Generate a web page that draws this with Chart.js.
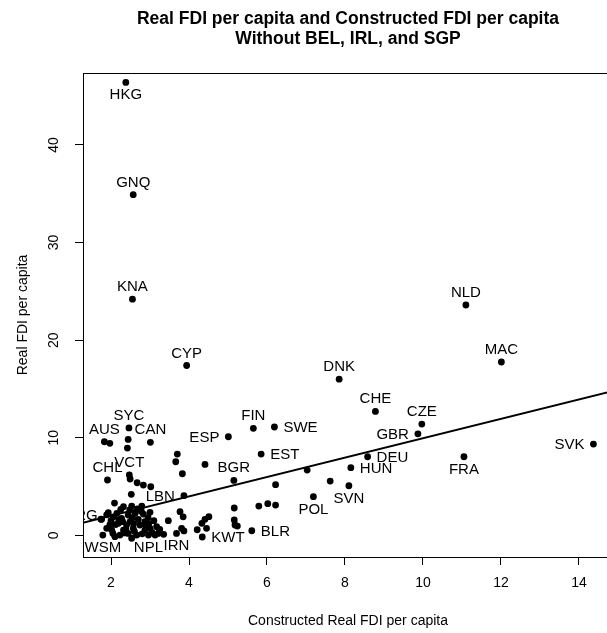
<!DOCTYPE html>
<html>
<head>
<meta charset="utf-8">
<script src="https://cdn.jsdelivr.net/npm/chart.js@4.4.7/dist/chart.umd.min.js"></script>
<style>
  html, body { margin: 0; padding: 0; background: #fff; overflow: hidden; }
  #wrap { width: 620px; height: 633px; }
</style>
</head>
<body>
<div id="wrap"><canvas id="chart" width="620" height="633"></canvas></div>
<script>
const chartTitle = ["Real FDI per capita and Constructed FDI per capita", "Without BEL, IRL, and SGP"]
const xAxisTitle = "Constructed Real FDI per capita"
const yAxisTitle = "Real FDI per capita"
const xTicks = [2, 4, 6, 8, 10, 12, 14]
const yTicks = [0, 10, 20, 30, 40]

// country code ("" = no label), constructed FDI per capita, real FDI per capita
const codes = [
  "HKG", "GNQ", "KNA", "CYP", "NLD", "MAC", "SVK", "FRA", "DNK", "CHE", "CZE",
  "GBR", "DEU", "HUN", "SVN", "POL", "FIN", "SWE", "ESP", "EST", "BGR", "SYC",
  "AUS", "CAN", "VCT", "CHL", "LBN", "ARG", "WSM", "NPL", "IRN", "KWT", "BLR",
  "", "", "", "", "", "", "", "", "", "", "", "", "", "", "", "", "", "", "", "",
  "", "", "", "", "", "", "", "", "", "", "", "", "", "", "", "", "", "", "", "",
  "", "", "", "", "", "", "", "", "", "", "", "", "", "", "", "", "", "", "", "",
  "", "", "", "", "", "", "", "", "", "", "", "", "", "", "", "", "", "", "",
  "", "", "", "", "", "", "", "", "", ""
]
const constructedFdi = [
  2.38, 2.57, 2.55, 3.94, 11.10, 12.01, 14.37, 11.05, 7.85, 8.78, 9.97,
  9.87, 8.58, 8.15, 8.10, 7.19, 5.65, 6.19, 5.01, 5.85, 5.15, 2.46,
  1.83, 3.01, 2.47, 1.91, 3.87, 1.89, 1.79, 2.96, 3.68, 4.34, 5.61,
  1.97, 2.44, 2.42, 3.70, 3.66, 4.41, 3.83, 7.03, 7.62, 6.22, 2.49, 2.67, 2.83, 3.02, 2.52, 5.16, 5.79, 6.02, 6.22, 4.21,
  4.33, 4.41, 4.51, 4.45, 5.16, 5.18, 5.24, 3.87, 3.81, 3.85, 3.77, 3.47, 3.17, 3.21, 2.09, 2.32, 2.53, 2.79, 2.83, 1.93,
  1.76, 2.06, 2.44, 2.70, 2.87, 3.00, 2.02, 2.23, 2.44, 2.66, 3.13, 2.40, 2.74, 3.00, 1.97, 2.19, 1.89, 2.32, 2.57, 2.87,
  2.15, 2.27, 2.49, 2.62, 2.10, 2.53, 2.05, 2.35, 2.60, 2.80, 3.05, 2.20, 2.55, 2.90, 2.12, 1.74, 2.97, 3.35, 2.38,
  2.30, 2.48, 2.68, 2.95, 3.10, 2.25, 2.78, 2.00, 2.58, 3.25
]
const realFdi = [
  46.4, 34.9, 24.2, 17.4, 23.6, 17.76, 9.35, 8.05, 16.0, 12.7, 11.4,
  10.4, 8.05, 6.93, 5.08, 3.96, 10.96, 11.1, 10.1, 8.33, 5.63, 11.0,
  9.59, 9.53, 6.18, 5.67, 4.06, 2.10, 0.03, 0.03, 0.2, -0.17, 0.47,
  9.43, 9.83, 8.94, 8.33, 7.54, 7.27, 6.31, 6.69, 5.56, 5.19, 5.77, 5.39, 5.15, 4.98, 4.20, 2.80, 3.00, 3.24, 3.10, 0.57,
  1.23, 1.64, 1.91, 0.72, 1.57, 1.06, 0.95, 0.45, 0.72, 1.90, 2.42, 1.50, 0.88, 0.20, 3.30, 2.93, 3.00, 3.00, 2.18, 2.32,
  1.64, 1.90, 2.08, 1.64, 1.39, 2.36, 0.54, 0.03, 0.20, 0.03, 0.03, 1.06, 1.06, 0.72, 1.06, 1.23, 0.72, 0.54, 0.72, 0.54,
  2.25, 1.74, 1.39, 2.25, -0.14, -0.30, 0.20, 0.25, 0.40, 0.15, 0.30, 1.60, 1.80, 0.90, 1.10, 1.65, 1.20, 0.10, 0.60,
  1.40, 2.60, 2.70, 1.80, 1.50, 2.65, 2.45, 1.50, 1.20, 0.60
]
// which side of the point each label sits on
const labelSide = {
  HKG: "below", FRA: "below", SVN: "below", POL: "below", WSM: "below", NPL: "below", IRN: "below",
  SVK: "left", GBR: "left", ESP: "left", LBN: "left", ARG: "left",
  DEU: "right", HUN: "right", SWE: "right", EST: "right", KWT: "right", BLR: "right"
}

// fitted regression line (two ends)
const fitX = [1.0, 15.0]
const fitY = [1.01, 14.92]

const FONT = "'Liberation Sans', Arial, Helvetica, sans-serif"

const frame = {
  id: "frame",
  afterDraw(chart) {
    const { ctx, chartArea: a } = chart
    ctx.save()
    ctx.strokeStyle = "#000"
    ctx.lineWidth = 1
    ctx.strokeRect(a.left + 0.5, a.top + 0.5, a.right - a.left, a.bottom - a.top)
    ctx.fillStyle = "#000"
    ctx.font = `bold 17.5px ${FONT}`
    ctx.textAlign = "center"
    ctx.textBaseline = "alphabetic"
    const cx = (a.left + a.right) / 2
    ctx.fillText(chartTitle[0], cx, 24)
    ctx.fillText(chartTitle[1], cx, 44)
    ctx.restore()
  }
}

const pointLabels = {
  id: "pointLabels",
  afterDatasetsDraw(chart) {
    const { ctx, chartArea: a, scales } = chart
    ctx.save()
    ctx.beginPath()
    ctx.rect(a.left, a.top, a.right - a.left, a.bottom - a.top)
    ctx.clip()
    ctx.fillStyle = "#000"
    ctx.font = `15px ${FONT}`
    ctx.textBaseline = "alphabetic"
    codes.forEach((code, i) => {
      if (!code) return
      const px = scales.x.getPixelForValue(constructedFdi[i])
      const py = scales.y.getPixelForValue(realFdi[i])
      const side = labelSide[code] || "above"
      if (side === "below") {
        ctx.textAlign = "center"
        ctx.fillText(code, px, py + 17)
      } else if (side === "above") {
        ctx.textAlign = "center"
        ctx.fillText(code, px, py - 8)
      } else if (side === "left") {
        ctx.textAlign = "right"
        ctx.fillText(code, px - 9, py + 5)
      } else {
        ctx.textAlign = "left"
        ctx.fillText(code, px + 9, py + 5)
      }
    })
    ctx.restore()
  }
}

const tickGrid = { display: true, drawOnChartArea: false, drawTicks: true, tickLength: 8, color: "#000", lineWidth: 1 }

new Chart(document.getElementById("chart"), {
  type: "scatter",
  data: {
    datasets: [
      {
        data: constructedFdi.map((x, i) => ({ x, y: realFdi[i] })),
        backgroundColor: "#000",
        borderWidth: 0,
        pointRadius: 3.4,
        order: 2
      },
      {
        data: fitX.map((x, i) => ({ x, y: fitY[i] })),
        showLine: true,
        borderColor: "#000",
        borderWidth: 2,
        pointRadius: 0,
        order: 1
      }
    ]
  },
  options: {
    responsive: false,
    animation: false,
    layout: { padding: { top: 73, right: 7, left: 0, bottom: 0 } },
    plugins: {
      legend: { display: false },
      tooltip: { enabled: false }
    },
    scales: {
      x: {
        type: "linear",
        min: 1.282,
        max: 14.872,
        afterBuildTicks: (s) => { s.ticks = xTicks.map(v => ({ value: v })) },
        afterFit: (s) => { s.height = 76 },
        grid: tickGrid,
        border: { display: false },
        ticks: { color: "#000", font: { family: FONT, size: 14 }, padding: 10, maxRotation: 0, autoSkip: false },
        title: { display: true, text: xAxisTitle, color: "#000", font: { family: FONT, size: 14 }, padding: { top: 0, bottom: 3 } }
      },
      y: {
        type: "linear",
        min: -2.22,
        max: 47.37,
        afterBuildTicks: (s) => { s.ticks = yTicks.map(v => ({ value: v })) },
        afterFit: (s) => { s.width = 83 },
        grid: tickGrid,
        border: { display: false },
        ticks: { color: "#000", font: { family: FONT, size: 14 }, padding: 13, minRotation: 90, maxRotation: 90, crossAlign: "center", autoSkip: false },
        title: { display: true, text: yAxisTitle, color: "#000", font: { family: FONT, size: 14 }, padding: { top: 15, bottom: 0 } }
      }
    }
  },
  plugins: [frame, pointLabels]
})
</script>
</body>
</html>
